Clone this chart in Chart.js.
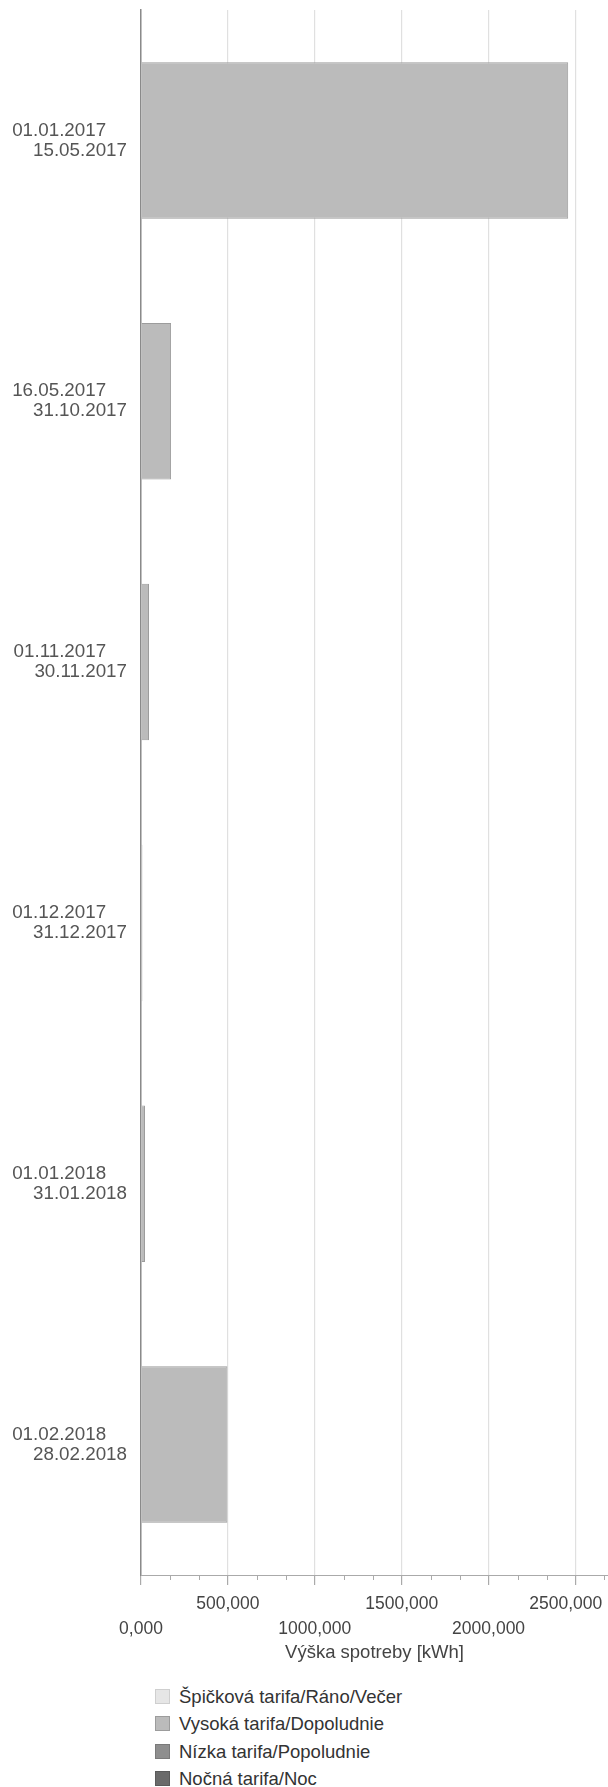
<!DOCTYPE html>
<html>
<head>
<meta charset="utf-8">
<script src="https://cdn.jsdelivr.net/npm/chart.js@4/dist/chart.umd.min.js"></script>
<style>
  body { margin: 0; background: #fff; }
  #wrap { position: relative; width: 608px; height: 1787px; }
  #spotrebaCanvas { position: absolute; left: 0; top: 0; }
  #legenda { position: absolute; left: 155px; top: 1683px; font: 18.5px "Liberation Sans", Arial, sans-serif; color: #333; }
  #legenda div { height: 27.3px; line-height: 27.3px; white-space: nowrap; }
  #legenda span { display: inline-block; width: 13px; height: 13px; border: 1px solid; vertical-align: -1px; margin-right: 9px; }
</style>
</head>
<body>
<div id="wrap">
  <canvas id="spotrebaCanvas" width="608" height="1664"></canvas>
  <div id="legenda"></div>
</div>
<script>
// obdobia (od - do)
var periodFrom = ["01.01.2017", "16.05.2017", "01.11.2017", "01.12.2017", "01.01.2018", "01.02.2018"];
var periodTo   = ["15.05.2017", "31.10.2017", "30.11.2017", "31.12.2017", "31.01.2018", "28.02.2018"];

// spotreba podla tarify [kWh]
var spickova = [0, 0, 0, 0, 0, 0];
var vysoka   = [2458, 173, 46, 8, 23, 497];
var nizka    = [0, 0, 0, 0, 0, 0];
var nocna    = [0, 0, 0, 0, 0, 0];

// hodnoty na osi x
var xTicks = [0, 500, 1000, 1500, 2000, 2500];
var xMax = 2687;

var fontName = '"Liberation Sans", Arial, sans-serif';

function fmt(v) {
  return v.toFixed(3).replace(".", ",");
}

// kratke medzi-ciarky na osi x (tretiny)
var minorTicks = {
  id: "minorTicks",
  afterDraw: function (chart) {
    var sc = chart.scales.x;
    var ctx = chart.ctx;
    ctx.save();
    ctx.strokeStyle = "#aaaaaa";
    ctx.lineWidth = 1;
    for (var i = 0; i < xTicks.length; i++) {
      for (var k = 1; k <= 2; k++) {
        var v = xTicks[i] + k * 500 / 3;
        if (v > xMax) continue;
        var px = Math.round(sc.getPixelForValue(v)) + 0.5;
        ctx.beginPath();
        ctx.moveTo(px, sc.top);
        ctx.lineTo(px, sc.top + 5);
        ctx.stroke();
      }
    }
    ctx.restore();
  }
};

var datasets = [
  { label: "Špičková tarifa/Ráno/Večer", data: spickova, backgroundColor: "#e6e6e6", borderColor: "#cfcfcf" },
  { label: "Vysoká tarifa/Dopoludnie", data: vysoka, backgroundColor: "#bbbbbb", borderColor: "#9c9c9c" },
  { label: "Nízka tarifa/Popoludnie", data: nizka, backgroundColor: "#8e8e8e", borderColor: "#7a7a7a" },
  { label: "Nočná tarifa/Noc", data: nocna, backgroundColor: "#6a6a6a", borderColor: "#5a5a5a" }
];
datasets.forEach(function (d) {
  d.borderWidth = 1;
  d.barPercentage = 0.6;
  d.categoryPercentage = 1;
  d.inflateAmount = 0;
});

var graphData = {
  type: "bar",
  data: {
    labels: periodFrom.map(function (f, i) { return [f, periodTo[i]]; }),
    datasets: datasets
  },
  options: {
    indexAxis: "y",
    responsive: false,
    animation: false,
    layout: { padding: { top: 10, left: 0, right: 0, bottom: 0 } },
    plugins: { legend: { display: false }, tooltip: { enabled: false } },
    scales: {
      y: {
        stacked: true,
        grid: { display: false, drawTicks: false },
        border: { display: true, color: "#8a8a8a", width: 1.5 },
        ticks: {
          padding: 14,
          color: "#555",
          font: { family: fontName, size: 18.8, lineHeight: 1.07 },
          callback: function (value, index) {
            return [periodFrom[index] + "    ", periodTo[index]];
          }
        },
        afterFit: function (scale) {
          scale.width = 141;
          scale.paddingTop = 0;
          scale.paddingBottom = 0;
        }
      },
      x: {
        stacked: true,
        min: 0,
        max: xMax,
        grid: { color: "#e0e0e0", tickColor: "#aaaaaa", tickLength: 10, lineWidth: 1.2 },
        border: { color: "#aaaaaa", width: 1 },
        afterBuildTicks: function (scale) {
          scale.ticks = xTicks.map(function (v) { return { value: v }; });
        },
        ticks: {
          autoSkip: false,
          maxRotation: 0,
          padding: 7,
          color: "#444",
          font: { family: fontName, size: 17.5, lineHeight: 1.4 },
          callback: function (value) {
            var s = fmt(value);
            if (value === 2500) s += "    ";
            return (value / 500) % 2 === 0 ? ["", s] : [s, ""];
          }
        },
        title: {
          display: true,
          text: "Výška spotreby [kWh]",
          color: "#444",
          padding: { top: 0, bottom: 0 },
          font: { family: fontName, size: 18.5, lineHeight: 1.2 }
        },
        afterFit: function (scale) {
          scale.height = 89;
          scale.paddingLeft = 0;
          scale.paddingRight = 0;
        }
      }
    }
  },
  plugins: [minorTicks]
};

var context = document.getElementById("spotrebaCanvas").getContext("2d");
var spotrebaChart = new Chart(context, graphData);

// legenda pod grafom
var leg = document.getElementById("legenda");
datasets.forEach(function (d) {
  var row = document.createElement("div");
  var box = document.createElement("span");
  box.style.background = d.backgroundColor;
  box.style.borderColor = d.borderColor;
  row.appendChild(box);
  row.appendChild(document.createTextNode(d.label));
  leg.appendChild(row);
});
</script>
</body>
</html>
